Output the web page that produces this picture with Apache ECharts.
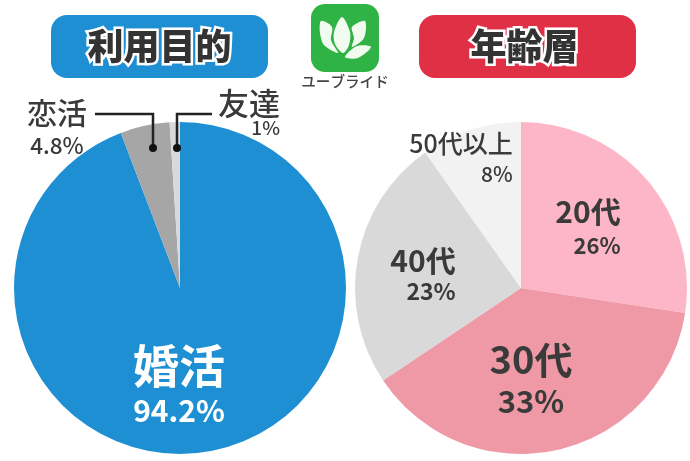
<!DOCTYPE html>
<html>
<head>
<meta charset="utf-8">
<style>
html, body { margin: 0; padding: 0; background: #fff; }
#chart { width: 690px; height: 461px; }
</style>
<script src="https://cdn.jsdelivr.net/npm/echarts@6/dist/echarts.min.js"></script>
</head>
<body>
<div id="chart"></div>
<script>
// 利用目的
let purposeNames = ['婚活', '恋活', '友達'];
let purposeValues = [94.2, 4.8, 1];
let purposeLabels = ['94.2%', '4.8%', '1%'];
let purposeColors = ['#1f8fd3', '#a6a6a6', '#d9d9d9'];

// 年齢層 (扇の大きさは図から読み取り、表示の%は別)
let ageNames = ['20代', '30代', '40代', '50代以上'];
let ageValues = [27.4, 38.2, 24.6, 9.8];
let ageLabels = ['26%', '33%', '23%', '8%'];
let ageColors = ['#fdb6c7', '#ee99a5', '#d9d9d9', '#f2f2f2'];

let fontFamily = '"Noto Sans CJK JP", "Noto Sans", sans-serif';
let textColor = '#3a3a3a';

// 各ラベルの位置と文字サイズ
let purposeLabelStyle = [
    { x: 179, y: 385, name: 46, pct: 30, nameLine: 52, pctLine: 38, align: 'center', color: '#fff', weight: 'bold' },
    { x: 57, y: 127, name: 30, pct: 22.5, nameLine: 36, pctLine: 28, align: 'center', color: textColor, weight: 500 },
    { x: 249, y: 113, name: 31, pct: 19, nameLine: 30, pctLine: 20, align: 'right', color: textColor, weight: 500 }
];
let ageLabelStyle = [
    { x: 588, y: 228, name: 30, pct: 22, nameLine: 36, pctLine: 32, align: 'right', weight: 'bold' },
    { x: 531, y: 379, name: 38, pct: 31, nameLine: 44, pctLine: 38, align: 'center', weight: 'bold' },
    { x: 423, y: 274, name: 30, pct: 23, nameLine: 34, pctLine: 26, align: 'right', weight: 'bold' },
    { x: 461, y: 159, name: 25, pct: 21, nameLine: 30, pctLine: 32, align: 'right', weight: 500 }
];

function buildData(names, values, labels, colors, styles) {
    return names.map((name, i) => {
        let s = styles[i];
        let color = s.color || textColor;
        return {
            name: name,
            value: values[i],
            itemStyle: { color: colors[i] },
            label: {
                formatter: '{n|' + name + '}\n{p|' + labels[i] + '}',
                rich: {
                    n: { fontFamily: fontFamily, fontSize: s.name, fontWeight: s.weight, color: color, lineHeight: s.nameLine, align: 'center' },
                    p: { fontFamily: fontFamily, fontSize: s.pct, fontWeight: s.weight, color: color, lineHeight: s.pctLine, align: s.align }
                }
            }
        };
    });
}

function pieSeries(center, data, styles) {
    return {
        type: 'pie',
        center: center,
        radius: [0, 166],
        startAngle: 90,
        clockwise: true,
        silent: true,
        animation: false,
        labelLine: { show: false },
        label: { show: true, position: 'inside' },
        labelLayout: params => ({
            x: styles[params.dataIndex].x,
            y: styles[params.dataIndex].y,
            align: 'center',
            verticalAlign: 'middle'
        }),
        data: data
    };
}

// 見出しの角丸ボックス
function titleBox(x, textX, fill, text) {
    return [
        {
            type: 'rect',
            shape: { x: x, y: 15, width: 217, height: 63, r: 16 },
            style: { fill: fill }
        },
        {
            type: 'text',
            x: textX,
            y: 46,
            style: {
                text: text,
                fill: '#333',
                stroke: '#fff',
                lineWidth: 5,
                strokeFirst: true,
                font: '900 36px ' + fontFamily,
                align: 'center',
                verticalAlign: 'middle'
            },
            z: 5
        }
    ];
}

// 引き出し線
function leader(points, dot) {
    return [
        {
            type: 'polyline',
            shape: { points: points },
            style: { stroke: '#222', lineWidth: 2.5, fill: null },
            z: 10
        },
        {
            type: 'circle',
            shape: { cx: dot[0], cy: dot[1], r: 4 },
            style: { fill: '#111' },
            z: 10
        }
    ];
}

// ロゴの花びら
function petal(points) {
    return {
        type: 'polygon',
        shape: { points: points, smooth: 0.3 },
        style: { fill: '#f2fbef' },
        z: 6
    };
}

let logo = [
    {
        type: 'rect',
        shape: { x: 311, y: 4, width: 68, height: 68, r: 14 },
        style: { fill: '#2fb344' },
        z: 5
    },
    petal([[342, 17], [350, 32], [349, 45], [343, 53], [335, 44], [334, 32]]),
    petal([[321, 21], [332, 27], [331, 40], [338, 53], [324, 45], [320, 33]]),
    petal([[365, 21], [352, 27], [354, 38], [352, 47], [364, 38]]),
    petal([[345, 57], [357, 46], [371, 47], [358, 58]]),
    {
        type: 'text',
        x: 345,
        y: 81,
        style: {
            text: 'ユーブライド',
            fill: '#444',
            font: '500 14.6px ' + fontFamily,
            align: 'center',
            verticalAlign: 'middle'
        }
    }
];

let option = {
    backgroundColor: '#fff',
    animation: false,
    series: [
        pieSeries([180, 288], buildData(purposeNames, purposeValues, purposeLabels, purposeColors, purposeLabelStyle), purposeLabelStyle),
        pieSeries([521, 288], buildData(ageNames, ageValues, ageLabels, ageColors, ageLabelStyle), ageLabelStyle)
    ],
    graphic: {
        elements: [].concat(
            titleBox(51, 159.5, '#1f8fd3', '利用目的'),
            titleBox(419, 524.5, '#e03046', '年齢層'),
            leader([[95, 114], [153, 114], [153, 148]], [153, 148]),
            leader([[212, 114], [177, 114], [177, 148]], [177, 148]),
            logo
        )
    }
};

let myChart = echarts.init(document.getElementById('chart'), null, { renderer: 'canvas' });
myChart.setOption(option);
</script>
</body>
</html>
